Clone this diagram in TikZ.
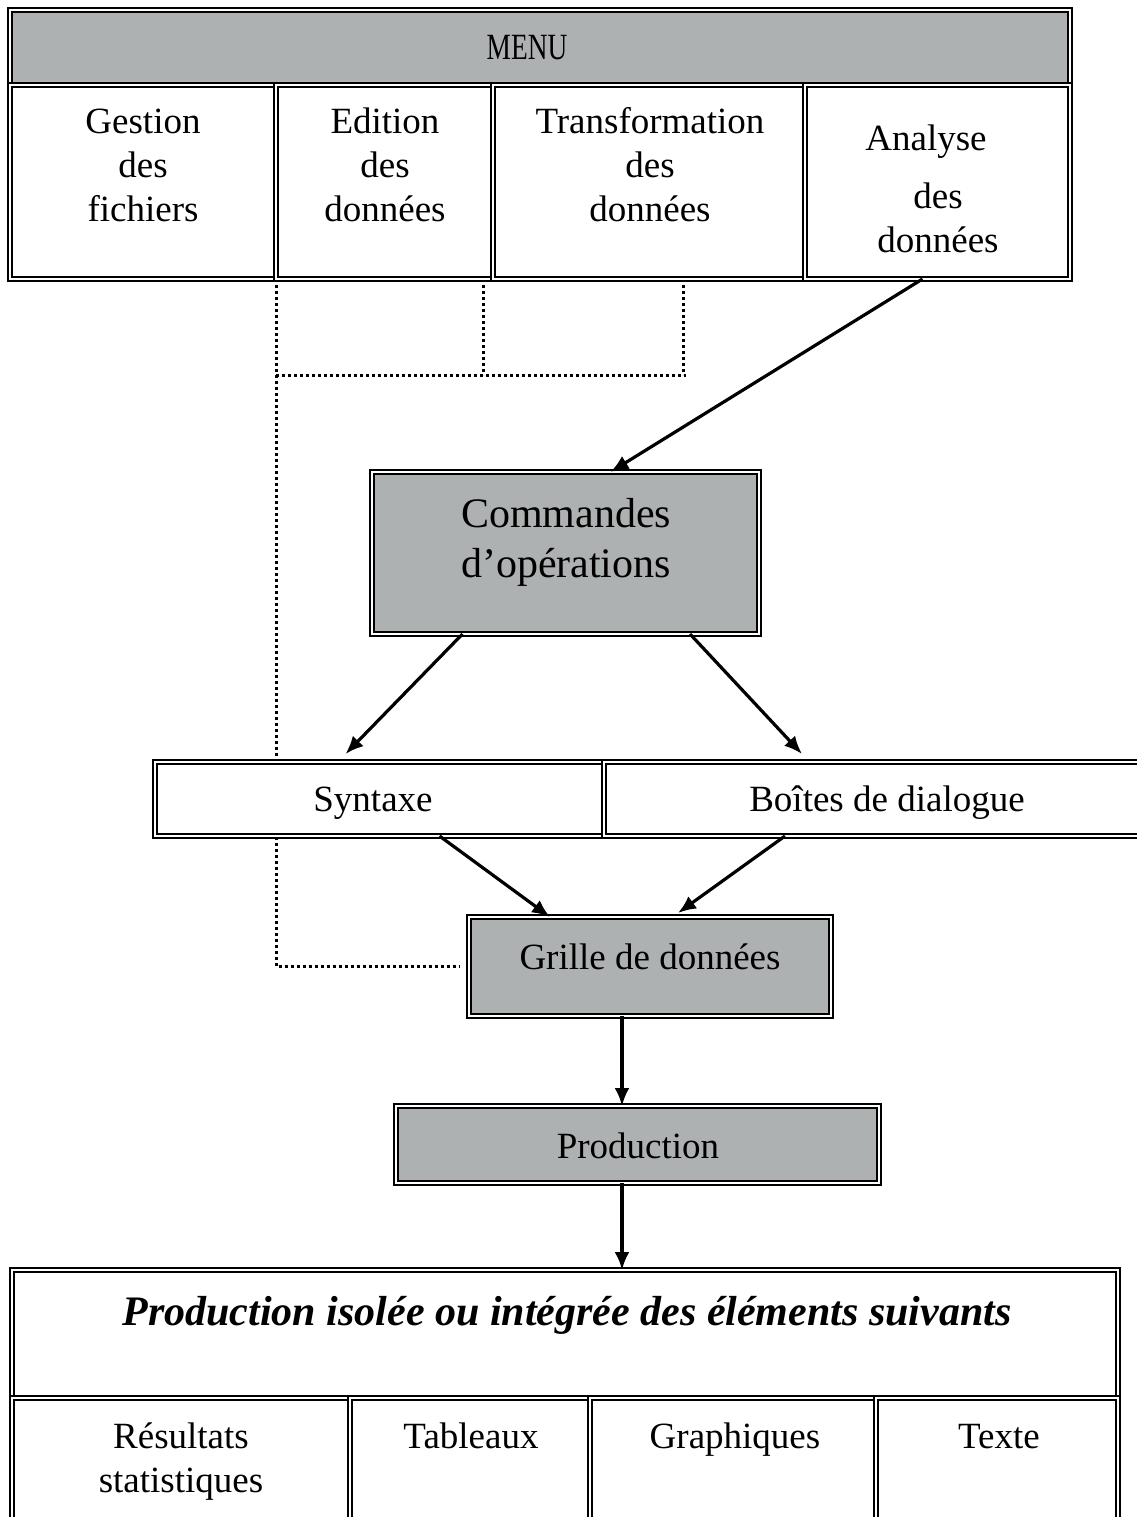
\documentclass[tikz,border=0pt]{standalone}
\usepackage{fontspec}
\setmainfont{Liberation Serif}
\usetikzlibrary{arrows.meta,backgrounds}
\definecolor{boxgray}{RGB}{174,177,177}
\begin{document}
\begin{tikzpicture}[x=1pt,y=-1pt,
  dbl/.style={draw=black, line width=1.7pt, double=white, double distance=2.4pt, inner sep=0pt, outer sep=0pt},
  cell/.style={dbl, fill=white},
  graycell/.style={dbl, fill=boxgray},
  lbl/.style={font=\fontsize{37}{44}\selectfont, inner sep=0pt, align=center, anchor=base},
  arr/.style={line width=3.2pt, -{Latex[length=18pt,width=15pt]}},
  dots/.style={line width=3pt, dash pattern=on 3pt off 3pt}]
\useasboundingbox (0,0) rectangle (1137,1517);

% MENU block
\node[graycell, minimum width=1060, minimum height=75] (menu) at (540,47.5) {};
\node[lbl] (menut) at (527,60) {\scalebox{0.74}[1]{MENU}};
\node[cell, minimum width=266, minimum height=194] (c1) at (143,182) {};
\node[cell, minimum width=217, minimum height=194] (c2) at (384.5,182) {};
\node[cell, minimum width=312, minimum height=194] (c3) at (649,182) {};
\node[cell, minimum width=265, minimum height=194] (c4) at (937.5,182) {};
\node[lbl] (t1) at (143,222) {Gestion\\des\\fichiers};
\node[lbl] (t2) at (385,222) {Edition\\des\\données};
\node[lbl] (t3) at (650,222) {Transformation\\des\\données};
\node[lbl] (t4) at (938,252) {Analyse\hspace*{24pt}\\[14pt]des\\données};

% Commandes
\node[graycell, minimum width=387, minimum height=162] (cmd) at (565.5,553) {};
\node[lbl, font=\fontsize{42}{50}\selectfont] (cmdt) at (566,577) {Commandes\\d’opérations};

% Syntaxe / Boites
\node[cell, minimum width=449, minimum height=74] (syn) at (379.5,799) {};
\node[cell, minimum width=546, minimum height=74] (boi) at (877,799) {};
\node[lbl] (synt) at (373,811) {Syntaxe};
\node[lbl] (boit) at (887,811) {Boîtes de dialogue};

% Grille
\node[graycell, minimum width=362, minimum height=99] (grille) at (650,966.5) {};
\node[lbl] (grillet) at (650,969) {Grille de données};

% Production
\node[graycell, minimum width=483, minimum height=77] (prod) at (637.5,1144.5) {};
\node[lbl] (prodt) at (638,1158) {Production};

% Bottom block
\node[cell, minimum width=1106, minimum height=128] (title) at (565,1334) {};
\node[lbl, font=\fontsize{42}{50}\selectfont\bfseries\itshape] (titlet) at (567,1325) {Production isolée ou intégrée des éléments suivants};
\node[cell, minimum width=338, minimum height=132] (b1) at (181,1464) {};
\node[cell, minimum width=240, minimum height=132] (b2) at (470,1464) {};
\node[cell, minimum width=286, minimum height=132] (b3) at (733,1464) {};
\node[cell, minimum width=242, minimum height=132] (b4) at (997,1464) {};
\node[lbl] (b1t) at (181,1492) {Résultats\\statistiques};
\node[lbl] (b2t) at (471,1448) {Tableaux};
\node[lbl] (b3t) at (735,1448) {Graphiques};
\node[lbl] (b4t) at (999,1448) {Texte};

% Arrows
\draw[arr] ([xshift=-15pt]c4.south) -- ([xshift=45pt]cmd.north);
\draw[arr] ([xshift=-103pt]cmd.south) -- ([xshift=-34pt,yshift=8pt]syn.north);
\draw[arr] ([xshift=124.5pt]cmd.south) -- ([xshift=-75pt,yshift=8pt]boi.north);
\draw[arr] ([xshift=60pt]syn.south) -- ([xshift=-100pt]grille.north);
\draw[arr] ([xshift=-92pt]boi.south) -- ([xshift=28pt,yshift=4pt]grille.north);
\draw[arr] ([xshift=-28pt]grille.south) -- ([xshift=-15.5pt]prod.north);
\draw[arr] ([xshift=-15.5pt]prod.south) -- ([xshift=57pt]title.north);

% Dotted connectors
\coordinate (dbarL) at (276,375);
\coordinate (dbarR) at (686,375);
\begin{scope}[on background layer]
\draw[dots] (c2.south west) |- ([xshift=-10pt]grille.west);
\draw[dots] (dbarL) -- (dbarR);
\draw[dots] ([xshift=-10pt]c2.south east) -- ++(0,96);
\draw[dots] ([xshift=34pt]c3.south) -- ++(0,96);
\end{scope}
\end{tikzpicture}
\end{document}
